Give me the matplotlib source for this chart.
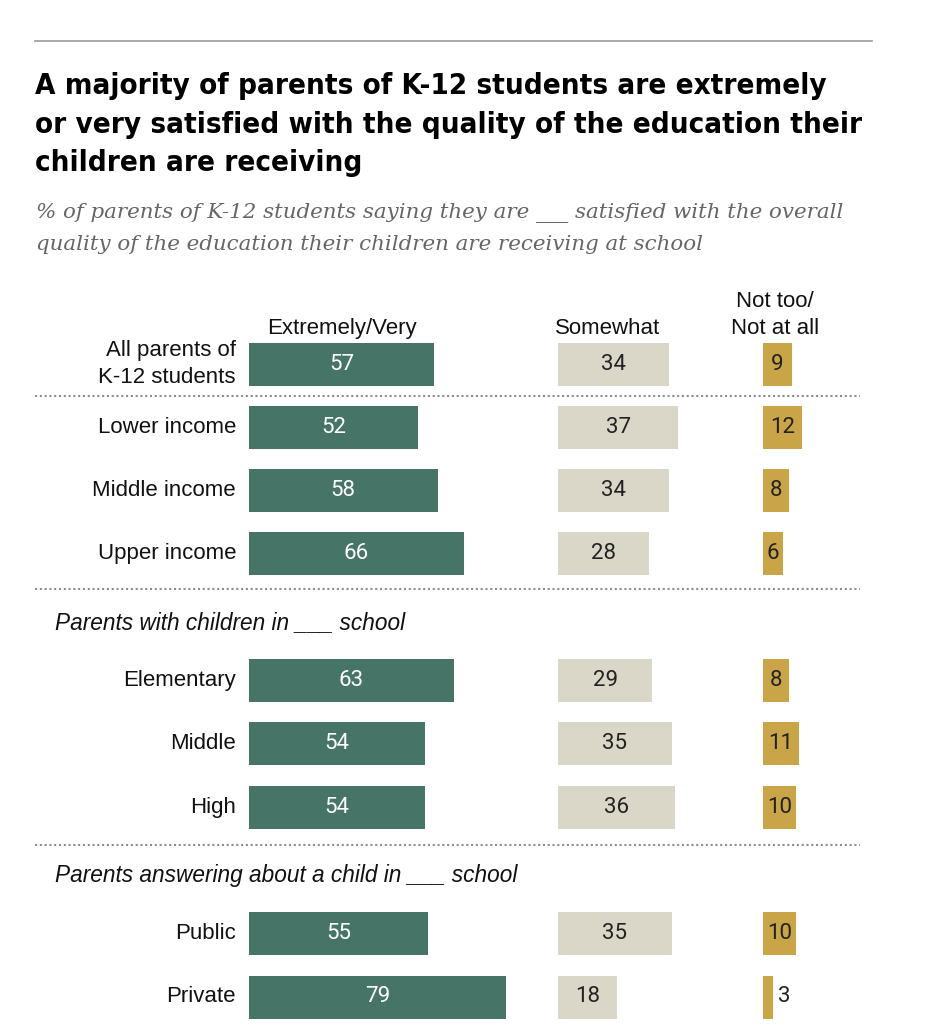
import matplotlib
matplotlib.use("Agg")
import matplotlib.pyplot as plt

# ---- data ----
categories = ["All parents of\nK-12 students", "Lower income", "Middle income", "Upper income",
              None, "Elementary", "Middle", "High",
              None, "Public", "Private"]
group_headers = {4: "Parents with children in ___ school",
                 8: "Parents answering about a child in ___ school"}
extremely_very = [57, 52, 58, 66, None, 63, 54, 54, None, 55, 79]
somewhat = [34, 37, 34, 28, None, 29, 35, 36, None, 35, 18]
not_too = [9, 12, 8, 6, None, 8, 11, 10, None, 10, 3]
col_headers = ["Extremely/Very", "Somewhat", "Not too/\nNot at all"]

title = ("A majority of parents of K-12 students are extremely\n"
         "or very satisfied with the quality of the education their\n"
         "children are receiving")
subtitle = ("% of parents of K-12 students saying they are ___ satisfied with the overall\n"
            "quality of the education their children are receiving at school")

# ---- style ----
GREEN = "#467466"
BEIGE = "#DAD7C9"
GOLD = "#C9A548"
W, H = 934, 1036
fig = plt.figure(figsize=(W / 100, H / 100), dpi=100)

PX_PER_UNIT = 3.25
ROW_PX = 63.3
X0, Y0 = 249, 364
ax = fig.add_axes([0, 0, 1, 1])
ax.set_xlim(-X0 / PX_PER_UNIT, (W - X0) / PX_PER_UNIT)
ax.set_ylim((H - Y0) / ROW_PX, -Y0 / ROW_PX)
ax.axis("off")

offsets = [0, (558 - X0) / PX_PER_UNIT, (763 - X0) / PX_PER_UNIT]
series = [extremely_very, somewhat, not_too]
colors = [GREEN, BEIGE, GOLD]
txtcolors = ["white", "#222222", "#222222"]
BODY = ["Liberation Sans"]
NUMF = ["Roboto", "Liberation Sans"]
FS = 16
NFS = 16
bh = 43 / ROW_PX

for i, cat in enumerate(categories):
    if cat is None:
        continue
    ax.text((236 - X0) / PX_PER_UNIT, i, cat, ha="right", va="center", fontsize=FS,
            family=BODY, color="#111111", linespacing=1.38)
    for s, off, c, tc in zip(series, offsets, colors, txtcolors):
        v = s[i]
        ax.barh(i, v, left=off, height=bh, color=c, edgecolor="none")
        if v >= 5:
            ax.text(off + v / 2, i, str(v), ha="center", va="center", fontsize=NFS,
                    family=NUMF, color=tc)
        else:
            ax.text(off + v + 1.5, i, str(v), ha="left", va="center", fontsize=NFS,
                    family=NUMF, color=tc)

for i, h in group_headers.items():
    ax.text((55 - X0) / PX_PER_UNIT, i + 0.08, h, ha="left", va="center", fontsize=16.3,
            family=BODY, style="italic", color="#111111")

# column headers
hdr_x = [342, 608, 775]
for x, h in zip(hdr_x, col_headers):
    ax.text((x - X0) / PX_PER_UNIT, (334 - Y0) / ROW_PX, h, ha="center", va="baseline",
            fontsize=FS, family=BODY, color="#111111", linespacing=1.38,
            multialignment="center")

# dotted separators
for ypx in [396, 589, 845]:
    ax.plot([(35 - X0) / PX_PER_UNIT, (860 - X0) / PX_PER_UNIT], [(ypx - Y0) / ROW_PX] * 2,
            color="#8c8c8c", lw=1.5, ls=(0, (1, 1.3)))

# top rule
fig.add_artist(plt.Line2D([35 / W, 872 / W], [1 - 41 / H, 1 - 41 / H], color="#999999", lw=1.2))

fig.text(35 / W, 1 - 72 / H, title, ha="left", va="top", fontsize=21.2, fontweight="bold",
         family=["DejaVu Sans"], stretch="condensed", color="#000000", linespacing=1.48)
fig.text(36 / W, 1 - 203 / H, subtitle, ha="left", va="top", fontsize=15.4, style="italic",
         family=["DejaVu Serif"], color="#666666", linespacing=1.78)

fig.savefig("out.png", dpi=100)
